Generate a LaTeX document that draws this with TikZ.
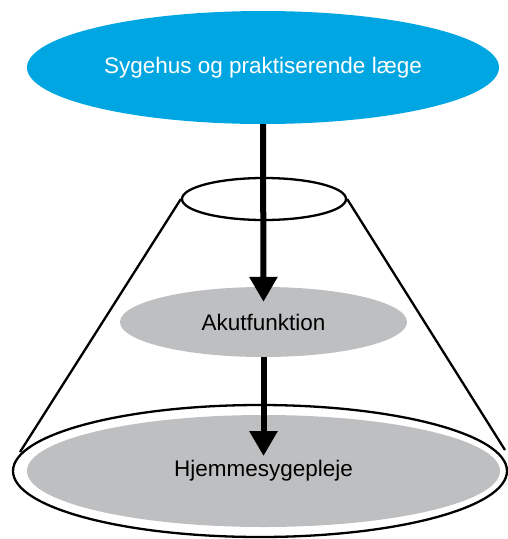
\documentclass[tikz,border=0pt]{standalone}
\usepackage{fontspec}
\setmainfont{Liberation Sans}
\usetikzlibrary{shapes.geometric,arrows.meta,calc}
\definecolor{topblue}{RGB}{0,166,226}
\definecolor{lgray}{RGB}{190,191,193}
\tikzset{
  ell/.style={ellipse, inner sep=0pt},
  outline/.style={draw=black, line width=2.3pt},
  lbl/.style={font=\fontsize{22.5}{26}\selectfont},
  arr/.style={line width=6pt, -{Triangle[length=25pt,width=27pt]}},
}
\begin{document}
\begin{tikzpicture}[x=1pt,y=-1pt]
\useasboundingbox (0,0) rectangle (508,539);
% bottom outer ellipse and cone
\node[ell, outline, minimum width=494pt, minimum height=132pt] (base) at (260,471) {};
\node[ell, outline, fill=white, minimum width=164pt, minimum height=42pt] (rim) at (264,199) {};
\coordinate (bl) at (20,452);
\coordinate (br) at (505,450);
\draw[line width=2.3pt] (rim.west) -- (bl);
\draw[line width=2.3pt] (rim.east) -- (br);
\node[ell, fill=lgray, minimum width=473pt, minimum height=112pt, lbl] (hjem) at (263.5,471) {Hjemmesygepleje};
\node[ell, fill=lgray, minimum width=287pt, minimum height=70pt, lbl] (akut) at (263.5,322) {Akutfunktion};
\node[ell, fill=topblue, text=white, minimum width=472pt, minimum height=113pt, lbl] (top) at (263,67.5) {Sygehus og praktiserende læge};
\coordinate (t1) at ($(akut.north)+(0,15)$);
\coordinate (t2) at (263.5,456);
\draw[arr] (top.south) -- (t1);
\draw[arr] (akut.south) -- (t2);
\end{tikzpicture}
\end{document}
